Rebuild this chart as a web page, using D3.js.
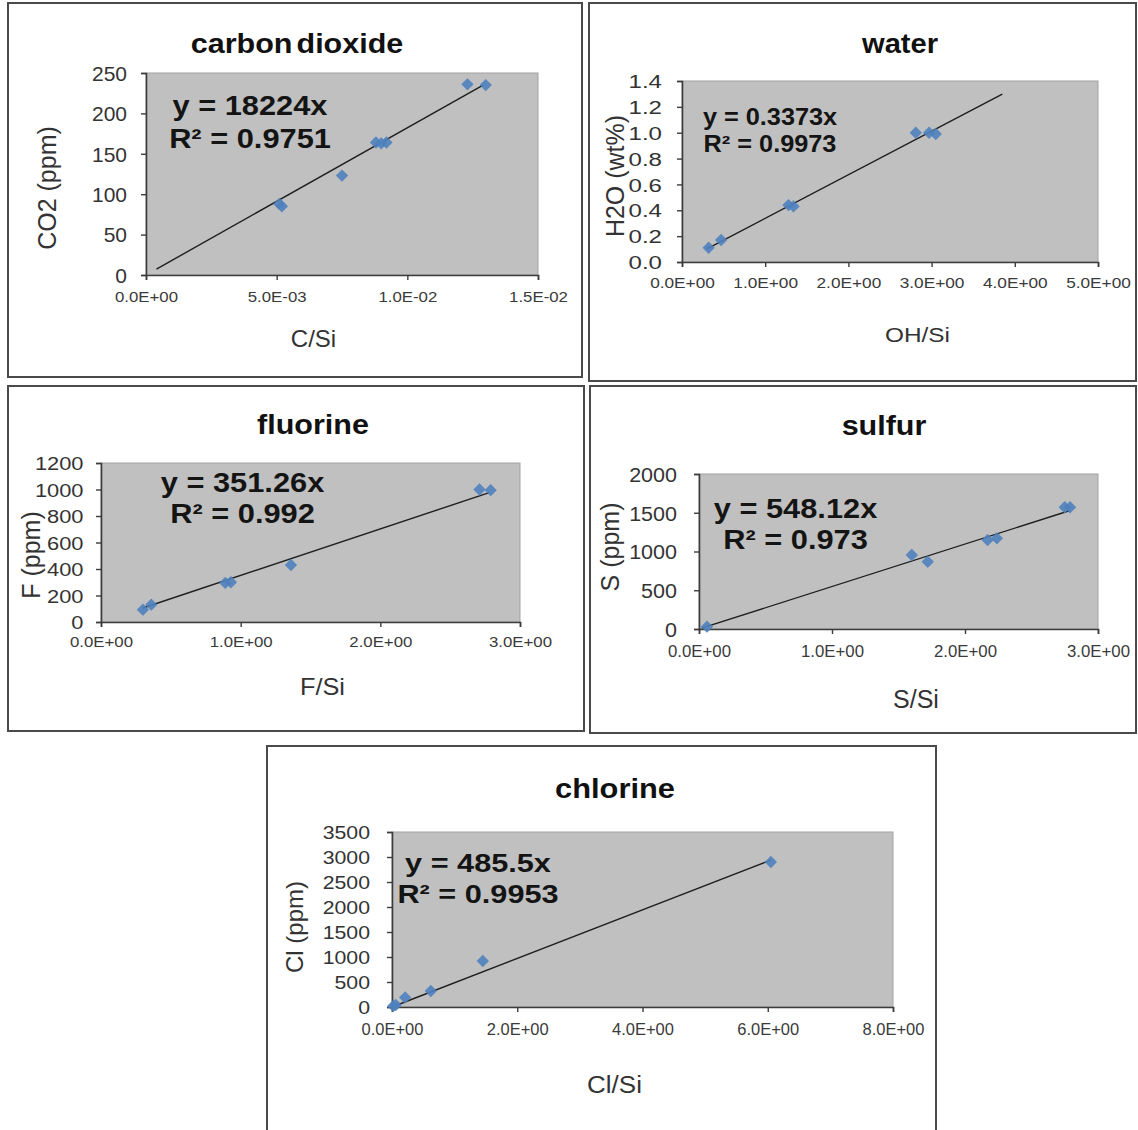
<!DOCTYPE html>
<html>
<head>
<meta charset="utf-8">
<script src="https://cdn.jsdelivr.net/npm/d3@7"></script>
<style>
  body { margin: 0; background: #fff; }
  svg { display: block; }
  text { font-family: "Liberation Sans", Arial, Helvetica, sans-serif; }
</style>
</head>
<body>
<svg id="fig" width="1138" height="1130"></svg>
<script>
// ---- Calibration data: element/Si ratio against concentration ----
const co2Ratio = [0.0051, 0.0052, 0.0075, 0.0088, 0.0090, 0.0092, 0.0123, 0.0130];
const co2Ppm   = [88, 85, 123, 164, 163, 164, 236, 235];
const co2Fit   = { slope: 18224, r2: "0.9751", from: 0.0004, to: 0.0129 };

const waterRatio = [0.32, 0.47, 1.28, 1.34, 2.81, 2.97, 3.05];
const waterWt    = [0.11, 0.17, 0.44, 0.43, 1.00, 1.00, 0.99];
const waterFit   = { slope: 0.3373, r2: "0.9973", from: 0.30, to: 3.85 };

const fRatio = [0.30, 0.36, 0.89, 0.93, 1.36, 2.71, 2.79];
const fPpm   = [93, 131, 295, 300, 430, 1000, 995];
const fFit   = { slope: 351.26, r2: "0.992", from: 0.30, to: 2.78 };

const sRatio = [0.06, 1.60, 1.72, 2.17, 2.24, 2.75, 2.79];
const sPpm   = [30, 955, 868, 1148, 1170, 1571, 1571];
const sFit   = { slope: 548.12, r2: "0.973", from: 0.02, to: 2.79 };

const clRatio = [0.02, 0.06, 0.21, 0.62, 1.45, 6.05];
const clPpm   = [20, 40, 190, 320, 920, 2900];
const clFit   = { slope: 485.5, r2: "0.9953", from: 0.0, to: 6.05 };

// ---- Tick values and labels ----
const co2XTicks = [0, 0.005, 0.01, 0.015];
const co2XLabels = ["0.0E+00", "5.0E-03", "1.0E-02", "1.5E-02"];
const co2YTicks = [0, 50, 100, 150, 200, 250];

const waterXTicks = [0, 1, 2, 3, 4, 5];
const waterXLabels = ["0.0E+00", "1.0E+00", "2.0E+00", "3.0E+00", "4.0E+00", "5.0E+00"];
const waterYTicks = [0, 0.2, 0.4, 0.6, 0.8, 1.0, 1.2, 1.4];

const fXTicks = [0, 1, 2, 3];
const fXLabels = ["0.0E+00", "1.0E+00", "2.0E+00", "3.0E+00"];
const fYTicks = [0, 200, 400, 600, 800, 1000, 1200];

const sXTicks = [0, 1, 2, 3];
const sXLabels = ["0.0E+00", "1.0E+00", "2.0E+00", "3.0E+00"];
const sYTicks = [0, 500, 1000, 1500, 2000];

const clXTicks = [0, 2, 4, 6, 8];
const clXLabels = ["0.0E+00", "2.0E+00", "4.0E+00", "6.0E+00", "8.0E+00"];
const clYTicks = [0, 500, 1000, 1500, 2000, 2500, 3000, 3500];

// ---- Panel layout and styling ----
const panels = [
  {
    title: "carbon dioxide", xTitle: "C/Si", yTitle: "CO2 (ppm)",
    xs: co2Ratio, ys: co2Ppm, fit: co2Fit, eqY: "y = 18224x",
    xTicks: co2XTicks, xLabels: co2XLabels, yTicks: co2YTicks, yFmt: d3.format("d"),
    frame: [8, 3, 582, 377], plot: [146, 73, 538, 275],
    titlePos: [297, 53, 28, 1.09],
    eq: { cx: 250, y1: 115, y2: 148, size: 28, sx: 1.1 },
    yTick: { size: 20, sx: 1.05, gap: 19 }, xTick: { size: 14, sx: 1.2, base: 27 },
    xTitlePos: [313.5, 347, 24, 1.0], yTitlePos: [56, 188, 25]
  },
  {
    title: "water", xTitle: "OH/Si", yTitle: "H2O (wt%)",
    xs: waterRatio, ys: waterWt, fit: waterFit, eqY: "y = 0.3373x",
    xTicks: waterXTicks, xLabels: waterXLabels, yTicks: waterYTicks, yFmt: d3.format(".1f"),
    frame: [589, 3, 1136, 381], plot: [682, 81, 1098, 262],
    titlePos: [900, 53, 28, 1.04],
    eq: { cx: 770, y1: 125, y2: 152, size: 23, sx: 1.1 },
    yTick: { size: 18.5, sx: 1.3, gap: 20 }, xTick: { size: 15, sx: 1.15, base: 26 },
    xTitlePos: [917.5, 342, 21, 1.16], yTitlePos: [624, 176, 25]
  },
  {
    title: "fluorine", xTitle: "F/Si", yTitle: "F (ppm)",
    xs: fRatio, ys: fPpm, fit: fFit, eqY: "y = 351.26x",
    xTicks: fXTicks, xLabels: fXLabels, yTicks: fYTicks, yFmt: d3.format("d"),
    frame: [8, 386, 584, 731], plot: [101, 463, 520, 622],
    titlePos: [313, 434, 28, 1.09],
    eq: { cx: 242.5, y1: 492, y2: 523, size: 28, sx: 1.1 },
    yTick: { size: 19, sx: 1.15, gap: 17.5 }, xTick: { size: 14, sx: 1.2, base: 25 },
    xTitlePos: [322.5, 695, 23, 1.1], yTitlePos: [40, 555, 25]
  },
  {
    title: "sulfur", xTitle: "S/Si", yTitle: "S (ppm)",
    xs: sRatio, ys: sPpm, fit: sFit, eqY: "y = 548.12x",
    xTicks: sXTicks, xLabels: sXLabels, yTicks: sYTicks, yFmt: d3.format("d"),
    frame: [590, 386, 1136, 733], plot: [699, 474, 1098, 629],
    titlePos: [884, 435, 28, 1.09],
    eq: { cx: 795.5, y1: 518, y2: 549, size: 28, sx: 1.1 },
    yTick: { size: 20.5, sx: 1.05, gap: 22 }, xTick: { size: 16, sx: 1.05, base: 28 },
    xTitlePos: [916, 708, 25, 1.0], yTitlePos: [619, 547, 25]
  },
  {
    title: "chlorine", xTitle: "Cl/Si", yTitle: "Cl (ppm)",
    xs: clRatio, ys: clPpm, fit: clFit, eqY: "y = 485.5x",
    xTicks: clXTicks, xLabels: clXLabels, yTicks: clYTicks, yFmt: d3.format("d"),
    frame: [267, 746, 936, 1134], plot: [392, 832, 893, 1007],
    titlePos: [615, 798, 28, 1.1],
    eq: { cx: 478, y1: 872, y2: 903, size: 26, sx: 1.18 },
    yTick: { size: 19, sx: 1.12, gap: 22 }, xTick: { size: 16, sx: 1.03, base: 28 },
    xTitlePos: [614.5, 1093, 23, 1.13], yTitlePos: [303, 927, 24]
  }
];

const svg = d3.select("#fig");
const AXIS = "#3c3c3c";
const MARK = "#4f81bd";

// Text that is drawn slightly wider than the font's natural width
function wideText(parent, str, x, y, size, sx, opts = {}) {
  return parent.append("text")
    .attr("transform", `translate(${x},${y}) scale(${sx},1)`)
    .attr("text-anchor", opts.anchor || "middle")
    .attr("font-size", size)
    .attr("font-weight", opts.bold ? "bold" : "normal")
    .attr("fill", opts.fill || "#111")
    .text(str);
}

panels.forEach(p => {
  const g = svg.append("g");
  const [fx0, fy0, fx1, fy1] = p.frame;
  const [px0, py0, px1, py1] = p.plot;

  // chart frame
  g.append("rect")
    .attr("x", fx0).attr("y", fy0)
    .attr("width", fx1 - fx0).attr("height", fy1 - fy0)
    .attr("fill", "#fff").attr("stroke", "#4a4a4a").attr("stroke-width", 2);

  const x = d3.scaleLinear()
    .domain([p.xTicks[0], p.xTicks[p.xTicks.length - 1]])
    .range([px0, px1]);
  const y = d3.scaleLinear()
    .domain([p.yTicks[0], p.yTicks[p.yTicks.length - 1]])
    .range([py1, py0]);

  // plot area
  g.append("rect")
    .attr("x", px0).attr("y", py0)
    .attr("width", px1 - px0).attr("height", py1 - py0)
    .attr("fill", "#c0c0c0").attr("stroke", "#a2a2a2").attr("stroke-width", 1);

  // x axis
  const xa = g.append("g")
    .attr("transform", `translate(0,${py1})`)
    .call(d3.axisBottom(x).tickValues(p.xTicks)
      .tickFormat((d, i) => p.xLabels[i]).tickSizeOuter(0).tickSize(5));
  xa.attr("font-family", null).attr("font-size", null);
  xa.select(".domain").attr("stroke", AXIS).attr("stroke-width", 1.6);
  xa.selectAll(".tick line").attr("stroke", AXIS).attr("stroke-width", 1.4);
  xa.selectAll(".tick text")
    .attr("y", null).attr("dy", null)
    .attr("transform", `translate(0,${p.xTick.base}) scale(${p.xTick.sx},1)`)
    .attr("font-size", p.xTick.size)
    .attr("fill", "#3a3a3a");

  // y axis
  const ya = g.append("g")
    .attr("transform", `translate(${px0},0)`)
    .call(d3.axisLeft(y).tickValues(p.yTicks).tickFormat(p.yFmt)
      .tickSizeOuter(0).tickSize(5));
  ya.attr("font-family", null).attr("font-size", null);
  ya.select(".domain").attr("stroke", AXIS).attr("stroke-width", 1.6);
  ya.selectAll(".tick line").attr("stroke", AXIS).attr("stroke-width", 1.4);
  ya.selectAll(".tick text")
    .attr("x", null).attr("dy", "0.36em")
    .attr("transform", `translate(${-p.yTick.gap},0) scale(${p.yTick.sx},1)`)
    .attr("font-size", p.yTick.size)
    .attr("fill", "#333");

  // linear fit through the origin
  const line = d3.line().x(d => x(d)).y(d => y(p.fit.slope * d));
  g.append("path")
    .attr("d", line([p.fit.from, p.fit.to]))
    .attr("fill", "none").attr("stroke", "#1e1e1e").attr("stroke-width", 1.4);

  // measured points (diamonds)
  const diamond = d3.symbol().type(d3.symbolSquare).size(76);
  g.append("g").selectAll("path")
    .data(p.xs.map((v, i) => [v, p.ys[i]]))
    .join("path")
    .attr("d", diamond)
    .attr("transform", d => `translate(${x(d[0])},${y(d[1])}) rotate(45)`)
    .attr("fill", MARK).attr("opacity", 0.9);

  // regression equation
  wideText(g, p.eqY, p.eq.cx, p.eq.y1, p.eq.size, p.eq.sx, { bold: true, fill: "#141414" });
  wideText(g, "R² = " + p.fit.r2, p.eq.cx, p.eq.y2, p.eq.size, p.eq.sx, { bold: true, fill: "#141414" });

  // chart title
  const [tx, ty, ts, tsx] = p.titlePos;
  wideText(g, p.title, tx, ty, ts, tsx, { bold: true, fill: "#111" })
    .attr("word-spacing", p.title.includes(" ") ? -4 : 0);

  // axis titles
  const [xtx, xty, xts, xtsx] = p.xTitlePos;
  wideText(g, p.xTitle, xtx, xty, xts, xtsx, { fill: "#333" });
  const [ytx, yty, yts] = p.yTitlePos;
  g.append("text")
    .attr("transform", `translate(${ytx},${yty}) rotate(-90)`)
    .attr("text-anchor", "middle")
    .attr("font-size", yts)
    .attr("fill", "#333")
    .text(p.yTitle);
});
</script>
</body>
</html>
